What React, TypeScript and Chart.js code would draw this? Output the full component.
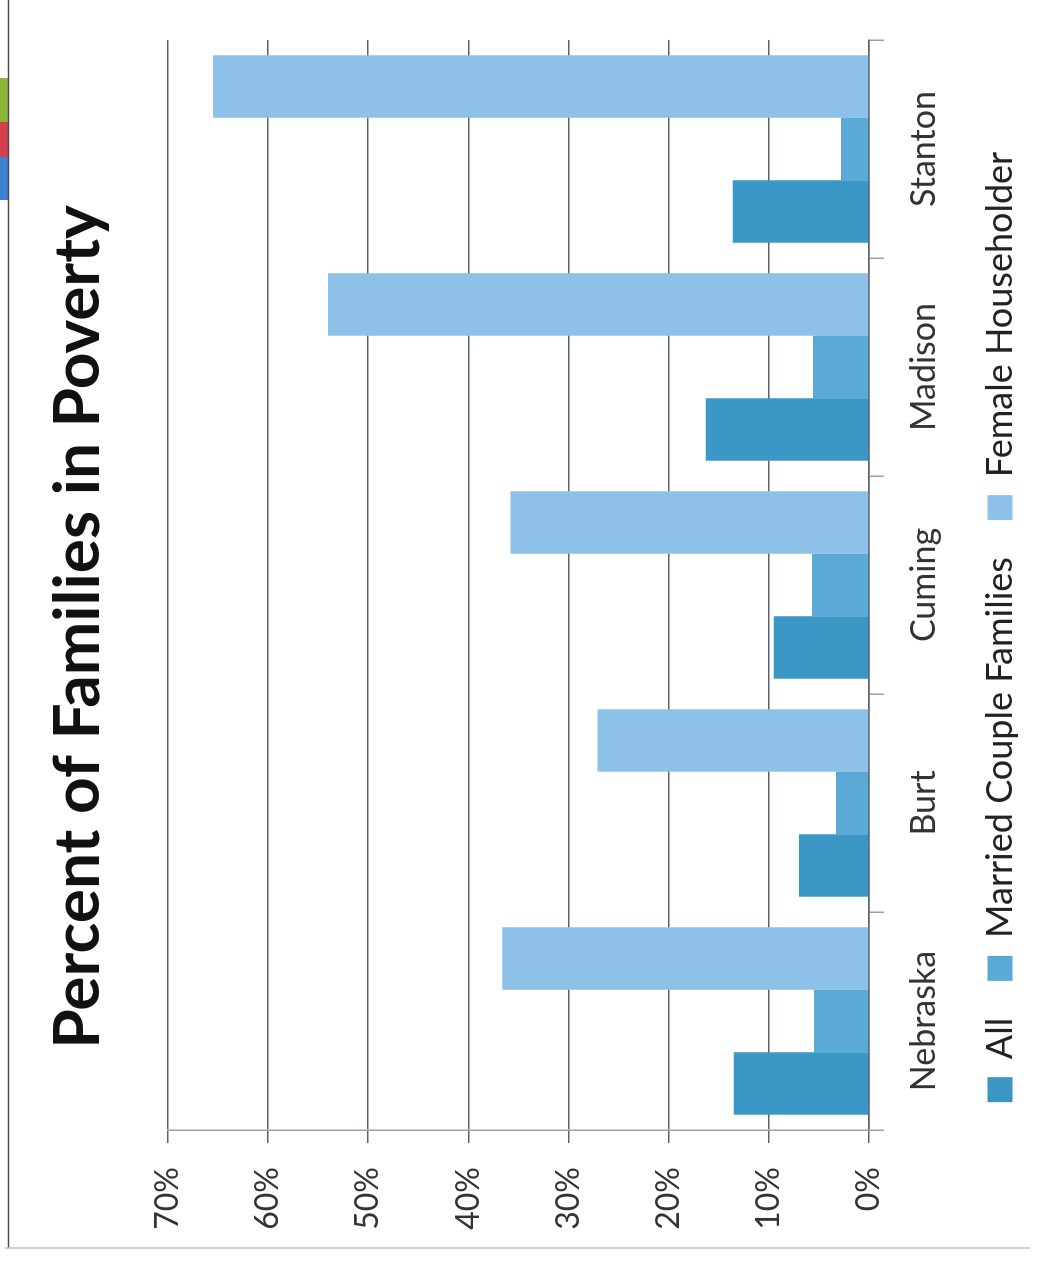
import React, { useEffect, useRef } from "react";
import { Chart, registerables } from "chart.js";

Chart.register(...registerables);

// ---- data ----
const categories = ["Nebraska", "Burt", "Cuming", "Madison", "Stanton"];
const seriesNames = ["All", "Married Couple Families", "Female Householder"];
const allFamilies = [13.5, 7.0, 9.5, 16.3, 13.6];
const marriedCouple = [5.5, 3.3, 5.7, 5.6, 2.8];
const femaleHouseholder = [36.6, 27.1, 35.8, 54.0, 65.5];
const yMin = 0;
const yMax = 70;
const yStep = 10;
const titleText = "Percent of Families in Poverty";

const seriesColors = ["#3b97c5", "#5ba9d7", "#8ec1e7"];

const W = 1268; // chart drawn unrotated, then turned -90deg
const H = 1037;

const framePlugin = {
  id: "frame",
  beforeDraw(chart: any) {
    const { ctx } = chart;
    ctx.save();
    ctx.fillStyle = "#ffffff";
    ctx.fillRect(0, 0, chart.width, chart.height);
    // slide decoration strip (scanned edge)
    ctx.fillStyle = "#8db53c";
    ctx.fillRect(1146, 0, 44, 8);
    ctx.fillStyle = "#d6404c";
    ctx.fillRect(1111, 0, 35, 8);
    ctx.fillStyle = "#3f80cf";
    ctx.fillRect(1068, 0, 43, 8);
    // frame lines
    ctx.strokeStyle = "#4a4d55";
    ctx.lineWidth = 1.5;
    ctx.beginPath();
    ctx.moveTo(20, 8.5);
    ctx.lineTo(chart.width, 8.5);
    ctx.stroke();
    ctx.strokeStyle = "#b9bfcb";
    ctx.lineWidth = 1.5;
    ctx.beginPath();
    ctx.moveTo(20, 5);
    ctx.lineTo(20, 1030);
    ctx.stroke();
    ctx.restore();
  },
};

export default function App() {
  const ref = useRef<HTMLCanvasElement | null>(null);

  useEffect(() => {
    if (!ref.current) return;
    const data = [allFamilies, marriedCouple, femaleHouseholder];
    const chart = new Chart(ref.current, {
      type: "bar",
      data: {
        labels: categories,
        datasets: seriesNames.map((name, i) => ({
          label: name,
          data: data[i],
          backgroundColor: seriesColors[i],
          borderWidth: 0,
          categoryPercentage: 0.86,
          barPercentage: 1.0,
        })),
      },
      options: {
        responsive: false,
        animation: false,
        devicePixelRatio: 1,
        layout: { padding: { left: 28, right: 14, top: 0, bottom: 9 } },
        plugins: {
          title: {
            display: true,
            text: titleText,
            color: "#111111",
            font: { family: "Lato", size: 64, weight: "bold" },
            padding: { top: 40, bottom: 51 },
          },
          legend: {
            display: true,
            position: "bottom",
            labels: {
              boxWidth: 25,
              boxHeight: 25,
              padding: 37,
              color: "#222222",
              font: { family: "Lato", size: 36 },
            },
          },
          tooltip: { enabled: false },
        },
        scales: {
          x: {
            ticks: {
              color: "#333333",
              font: { family: "Lato", size: 34 },
              padding: 20,
            },
            grid: {
              drawOnChartArea: false,
              drawTicks: true,
              tickLength: 15,
              color: "#9aa0aa",
              lineWidth: 1.5,
            },
            border: { display: true, color: "#5c6170", width: 1.5 },
            afterFit: (s: any) => {
              s.height = 76;
            },
          },
          y: {
            min: yMin,
            max: yMax,
            ticks: {
              stepSize: yStep,
              callback: (v: any) => v + "%",
              color: "#333333",
              font: { family: "Lato", size: 32 },
              padding: 24,
            },
            grid: {
              color: "#5c6170",
              lineWidth: 1.5,
              tickLength: 13,
              drawTicks: true,
            },
            border: { display: true, color: "#9aa0aa", width: 1.5 },
            afterFit: (s: any) => {
              s.width = 110;
            },
          },
          ySpacer: {
            type: "linear",
            position: "right",
            display: true,
            min: yMin,
            max: yMax,
            ticks: { display: false },
            grid: { display: false, drawTicks: false },
            border: { display: false },
            afterFit: (s: any) => {
              s.width = 26;
            },
          },
        },
      },
      plugins: [framePlugin],
    });
    return () => chart.destroy();
  }, []);

  return (
    <div
      style={{
        position: "fixed",
        left: 0,
        top: 0,
        width: H,
        height: W,
        overflow: "hidden",
        background: "#ffffff",
      }}
    >
      <div
        style={{
          position: "absolute",
          left: 0,
          top: 0,
          width: W,
          height: H,
          transformOrigin: "0 0",
          transform: `translateY(${W}px) rotate(-90deg)`,
        }}
      >
        <canvas ref={ref} width={W} height={H} style={{ width: W, height: H, display: "block" }} />
      </div>
    </div>
  );
}
